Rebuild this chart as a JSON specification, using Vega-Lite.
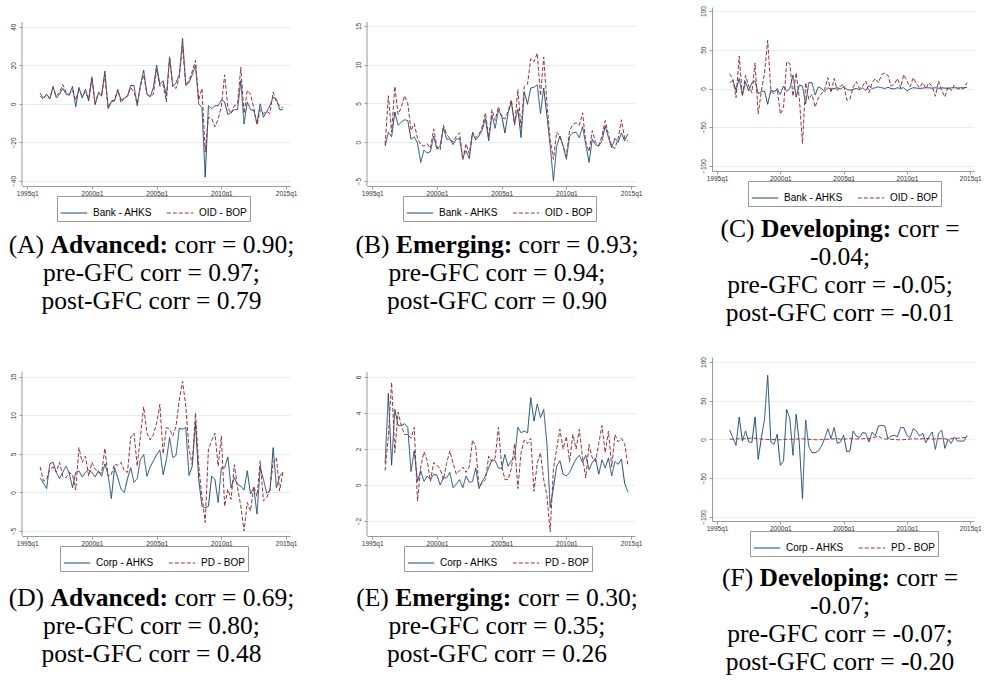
{
"$schema": "https://vega.github.io/schema/vega-lite/v6.json",
"padding": {"left": 8, "top": 5, "right": 0, "bottom": 0},
"background": "white",
"datasets": {
"ts": [
{"t":1996,"A1":5.5,"A2":4,"B1":-0.5,"B2":-0.3,"C1":7.5,"C2":19,"D1":1.9,"D2":3.3,"E1":1.2,"E2":0.8,"F1":12,"F2":0.5},
{"t":1996.25,"A1":3,"A2":2.5,"B1":1.3,"B2":6,"C1":10.5,"C2":12,"D1":1.2,"D2":1.5,"E1":5.1,"E2":2.7,"F1":2.4,"F2":0.3},
{"t":1996.5,"A1":5,"A2":5,"B1":0.7,"B2":1.3,"C1":-2.4,"C2":-12,"D1":0.5,"D2":1.7,"E1":1.1,"E2":5.7,"F1":-7.5,"F2":0.8},
{"t":1996.75,"A1":2.5,"A2":3,"B1":3.9,"B2":7.2,"C1":13,"C2":42,"D1":3.7,"D2":3,"E1":4.2,"E2":1.8,"F1":29,"F2":1},
{"t":1997,"A1":9,"A2":8.5,"B1":2.2,"B2":3.6,"C1":-8.4,"C2":-10,"D1":3.9,"D2":3.3,"E1":3.3,"E2":4.05,"F1":-2,"F2":0.5},
{"t":1997.25,"A1":3,"A2":4,"B1":2.6,"B2":4.5,"C1":8.8,"C2":17,"D1":2.6,"D2":2.6,"E1":3.3,"E2":3.3,"F1":11,"F2":1.2},
{"t":1997.5,"A1":5,"A2":6,"B1":2.9,"B2":6,"C1":-3.2,"C2":3,"D1":1.8,"D2":3.9,"E1":3.4,"E2":2.8,"F1":-3.2,"F2":1.5},
{"t":1997.75,"A1":8,"A2":10,"B1":2.8,"B2":5,"C1":7.5,"C2":-5.5,"D1":2.6,"D2":2.1,"E1":3.2,"E2":2.8,"F1":-4,"F2":2},
{"t":1998,"A1":5,"A2":6,"B1":0.4,"B2":1.5,"C1":9.7,"C2":33,"D1":3.4,"D2":1.9,"E1":0.75,"E2":2.6,"F1":29,"F2":1.5},
{"t":1998.25,"A1":4.5,"A2":5,"B1":0.7,"B2":2.4,"C1":-6.7,"C2":-33,"D1":2.5,"D2":2.6,"E1":1.9,"E2":3.2,"F1":-25.6,"F2":1},
{"t":1998.5,"A1":9,"A2":7,"B1":-0.1,"B2":0.5,"C1":-4,"C2":-3,"D1":0.6,"D2":2.3,"E1":0.2,"E2":-0.9,"F1":2.4,"F2":0.5},
{"t":1998.75,"A1":-1.5,"A2":2,"B1":-2.6,"B2":-0.3,"C1":-3.2,"C2":20,"D1":2.6,"D2":0.3,"E1":0.8,"E2":1,"F1":26,"F2":0.3},
{"t":1999,"A1":8.5,"A2":7.5,"B1":-1,"B2":-0.5,"C1":-20.4,"C2":62,"D1":2.8,"D2":5.8,"E1":0.2,"E2":1.85,"F1":82.8,"F2":0},
{"t":1999.25,"A1":3,"A2":4,"B1":-1.4,"B2":-0.2,"C1":-2.4,"C2":-2.4,"D1":2,"D2":3.9,"E1":0.5,"E2":1.35,"F1":-3.2,"F2":-0.2},
{"t":1999.5,"A1":7.5,"A2":6,"B1":-1.2,"B2":-0.8,"C1":-4,"C2":-6.7,"D1":2.6,"D2":4.7,"E1":0.3,"E2":0.2,"F1":-6.2,"F2":0},
{"t":1999.75,"A1":1.5,"A2":2.5,"B1":0.8,"B2":1.7,"C1":-1,"C2":0,"D1":2.9,"D2":2.1,"E1":0.6,"E2":1.25,"F1":6.7,"F2":-0.5},
{"t":2000,"A1":13.5,"A2":14,"B1":-0.9,"B2":-0.6,"C1":-7.5,"C2":-33,"D1":2.6,"D2":3.9,"E1":0.55,"E2":1.1,"F1":-33.3,"F2":-0.3},
{"t":2000.25,"A1":-0.5,"A2":0,"B1":-0.5,"B2":-1,"C1":3.2,"C2":-25,"D1":2,"D2":3,"E1":0,"E2":0.9,"F1":-27.7,"F2":0},
{"t":2000.5,"A1":5.5,"A2":6,"B1":1.9,"B2":2.2,"C1":-4,"C2":34.6,"D1":2.8,"D2":2.6,"E1":0.4,"E2":0.3,"F1":38.9,"F2":0.2},
{"t":2000.75,"A1":4,"A2":4.5,"B1":0.4,"B2":1,"C1":0,"C2":32,"D1":2.1,"D2":2.5,"E1":0.4,"E2":1.2,"F1":27,"F2":0.5},
{"t":2001,"A1":17,"A2":15,"B1":0.4,"B2":0.5,"C1":17.4,"C2":-10,"D1":3.7,"D2":5.7,"E1":0.7,"E2":1.9,"F1":-20.4,"F2":0.3},
{"t":2001.25,"A1":-2.5,"A2":-2,"B1":-0.3,"B2":0,"C1":-11,"C2":20.4,"D1":2.3,"D2":2.1,"E1":-0.15,"E2":1.2,"F1":32.5,"F2":0.6},
{"t":2001.5,"A1":1,"A2":1.5,"B1":0.4,"B2":0.8,"C1":4.5,"C2":-12.7,"D1":-0.8,"D2":2.3,"E1":0.05,"E2":0.6,"F1":-5,"F2":0.8},
{"t":2001.75,"A1":1.5,"A2":2,"B1":0.5,"B2":1.2,"C1":3.2,"C2":-71,"D1":3.2,"D2":3.7,"E1":0.3,"E2":0.8,"F1":-76.3,"F2":1},
{"t":2002,"A1":7,"A2":7.5,"B1":-2,"B2":-2.3,"C1":-19.6,"C2":7.5,"D1":1.9,"D2":3.5,"E1":-0.15,"E2":1,"F1":25,"F2":0.5},
{"t":2002.25,"A1":2,"A2":0.5,"B1":-1.1,"B2":-0.2,"C1":7.5,"C2":-14,"D1":0.4,"D2":3.9,"E1":0.5,"E2":0.7,"F1":-9.2,"F2":0.2},
{"t":2002.5,"A1":3,"A2":3,"B1":-2.1,"B2":-1.5,"C1":7.5,"C2":-7.5,"D1":0,"D2":2.8,"E1":0.15,"E2":1,"F1":-17,"F2":0},
{"t":2002.75,"A1":4,"A2":4,"B1":1.2,"B2":1.3,"C1":-8.4,"C2":-24,"D1":1.8,"D2":2.6,"E1":0.2,"E2":2.5,"F1":-17,"F2":-0.3},
{"t":2003,"A1":9.5,"A2":8.5,"B1":0.3,"B2":0.6,"C1":2,"C2":-12,"D1":3.2,"D2":7.2,"E1":0.95,"E2":2.1,"F1":-14.8,"F2":-0.5},
{"t":2003.25,"A1":9.5,"A2":6,"B1":0.8,"B2":1,"C1":0,"C2":-6.7,"D1":1.3,"D2":7.7,"E1":-0.2,"E2":-0.1,"F1":-8.4,"F2":-0.2},
{"t":2003.5,"A1":-1,"A2":0,"B1":1.6,"B2":2,"C1":-4,"C2":-1,"D1":1.8,"D2":3.4,"E1":0.2,"E2":0.1,"F1":1,"F2":0},
{"t":2003.75,"A1":10,"A2":9,"B1":3.1,"B2":3.8,"C1":1,"C2":14,"D1":4.3,"D2":7.3,"E1":0.5,"E2":0.3,"F1":14,"F2":0.3},
{"t":2004,"A1":17.5,"A2":15,"B1":0.2,"B2":0.6,"C1":-1,"C2":-5.4,"D1":4.9,"D2":11.1,"E1":0.95,"E2":1.6,"F1":1,"F2":0.5},
{"t":2004.25,"A1":5,"A2":5,"B1":3.5,"B2":4.2,"C1":0,"C2":13,"D1":2.1,"D2":7.7,"E1":1.4,"E2":1.3,"F1":15.3,"F2":0.8},
{"t":2004.5,"A1":3.5,"A2":4,"B1":1.8,"B2":2.8,"C1":1,"C2":-2.4,"D1":3.3,"D2":6.8,"E1":1.35,"E2":1.5,"F1":-5,"F2":1},
{"t":2004.75,"A1":8.5,"A2":5,"B1":4.1,"B2":4.6,"C1":-0.6,"C2":3.2,"D1":4.1,"D2":7.5,"E1":0.95,"E2":3.2,"F1":-3.2,"F2":0.5},
{"t":2005,"A1":20,"A2":18,"B1":3.5,"B2":3.2,"C1":2,"C2":5.4,"D1":4.9,"D2":9,"E1":0.9,"E2":1.1,"F1":5.4,"F2":0.3},
{"t":2005.25,"A1":10,"A2":9,"B1":1.2,"B2":3,"C1":-1,"C2":-15,"D1":5.5,"D2":11.4,"E1":1.7,"E2":0.3,"F1":-15.7,"F2":0.8},
{"t":2005.5,"A1":12,"A2":10,"B1":3.8,"B2":4,"C1":-2.4,"C2":-14,"D1":2.3,"D2":5,"E1":1.05,"E2":0.3,"F1":-14.8,"F2":1.2},
{"t":2005.75,"A1":4,"A2":1,"B1":5.2,"B2":5.5,"C1":-1,"C2":2,"D1":4.2,"D2":8.4,"E1":1.35,"E2":0.9,"F1":11,"F2":1},
{"t":2006,"A1":24,"A2":24.5,"B1":2.4,"B2":2.2,"C1":0,"C2":8.8,"D1":7.1,"D2":8.2,"E1":1.5,"E2":2.3,"F1":4.5,"F2":0.6},
{"t":2006.25,"A1":9,"A2":9,"B1":4.3,"B2":6.8,"C1":-1.5,"C2":0,"D1":4.5,"D2":7.3,"E1":3.2,"E2":-0.2,"F1":2.4,"F2":0.8},
{"t":2006.5,"A1":11,"A2":8,"B1":0.6,"B2":1.8,"C1":1,"C2":3.2,"D1":4.8,"D2":8.6,"E1":2.9,"E2":1.8,"F1":8.8,"F2":1},
{"t":2006.75,"A1":15,"A2":14,"B1":6.5,"B2":7.2,"C1":-2.4,"C2":9.7,"D1":8.3,"D2":12,"E1":3,"E2":2.5,"F1":8,"F2":1.5},
{"t":2007,"A1":34,"A2":30,"B1":4.9,"B2":7.5,"C1":3.6,"C2":-5.4,"D1":8.2,"D2":14.4,"E1":2.9,"E2":2.3,"F1":-3.2,"F2":1.2},
{"t":2007.25,"A1":9.5,"A2":10,"B1":7,"B2":10.8,"C1":0,"C2":7.5,"D1":8.4,"D2":11.2,"E1":4.85,"E2":2.6,"F1":9.7,"F2":2},
{"t":2007.5,"A1":11,"A2":12,"B1":7.1,"B2":10.4,"C1":1,"C2":13,"D1":2.2,"D2":5.6,"E1":3.55,"E2":-0.35,"F1":4.5,"F2":3},
{"t":2007.75,"A1":15,"A2":17,"B1":7.4,"B2":11.5,"C1":2,"C2":7.5,"D1":3.4,"D2":3.6,"E1":4.5,"E2":1.2,"F1":17.4,"F2":4.5},
{"t":2008,"A1":20,"A2":22.5,"B1":3.7,"B2":6,"C1":1,"C2":18,"D1":9.1,"D2":10.3,"E1":3.75,"E2":1.8,"F1":18.3,"F2":1.5},
{"t":2008.25,"A1":0,"A2":2,"B1":7,"B2":11,"C1":0,"C2":20,"D1":1.7,"D2":3.4,"E1":4.2,"E2":0.3,"F1":17.4,"F2":0.8},
{"t":2008.5,"A1":-2,"A2":8,"B1":3.4,"B2":5,"C1":1.5,"C2":17,"D1":-1.8,"D2":-0.5,"E1":2.25,"E2":-0.6,"F1":1,"F2":0.5},
{"t":2008.75,"A1":-38,"A2":-25,"B1":-0.5,"B2":0.3,"C1":0,"C2":3.2,"D1":-2,"D2":-3.9,"E1":-1.25,"E2":-2.6,"F1":4.5,"F2":0.3},
{"t":2009,"A1":-1,"A2":-7,"B1":-5,"B2":-2.2,"C1":-0.6,"C2":5.4,"D1":-1.8,"D2":5.6,"E1":-0.15,"E2":0.9,"F1":5.4,"F2":0},
{"t":2009.25,"A1":-2.5,"A2":-7.5,"B1":-0.5,"B2":1.3,"C1":1,"C2":13,"D1":2.1,"D2":6.7,"E1":1.05,"E2":2,"F1":3.6,"F2":-0.3},
{"t":2009.5,"A1":-1,"A2":-12,"B1":0.8,"B2":0.8,"C1":0,"C2":1,"D1":1.7,"D2":7.7,"E1":1.35,"E2":3.1,"F1":15.3,"F2":-0.5},
{"t":2009.75,"A1":-1,"A2":-8,"B1":-0.5,"B2":-0.5,"C1":1,"C2":18,"D1":-1.3,"D2":3.4,"E1":0.6,"E2":2,"F1":15.3,"F2":-0.2},
{"t":2010,"A1":2,"A2":-1,"B1":-2.2,"B2":-1.8,"C1":-3.2,"C2":9.7,"D1":3.2,"D2":7.3,"E1":0.5,"E2":2.7,"F1":5.4,"F2":0.3},
{"t":2010.25,"A1":1,"A2":15,"B1":0.8,"B2":1.5,"C1":-0.6,"C2":2,"D1":3.2,"D2":-1.8,"E1":0.7,"E2":1.3,"F1":2.4,"F2":0.5},
{"t":2010.5,"A1":-5.5,"A2":-2,"B1":1.2,"B2":2.3,"C1":1,"C2":14,"D1":4.6,"D2":0.4,"E1":1.1,"E2":2.8,"F1":14,"F2":1},
{"t":2010.75,"A1":-4.5,"A2":-5,"B1":1.3,"B2":2.5,"C1":0.6,"C2":6.2,"D1":0.6,"D2":-0.9,"E1":1.45,"E2":2,"F1":11,"F2":0.8},
{"t":2011,"A1":-3,"A2":-1,"B1":0.6,"B2":2.2,"C1":0,"C2":1,"D1":1.9,"D2":3.6,"E1":1.65,"E2":3.1,"F1":4.5,"F2":0.5},
{"t":2011.25,"A1":-3,"A2":0,"B1":2,"B2":3.8,"C1":0.5,"C2":7.5,"D1":1,"D2":0.6,"E1":1.25,"E2":1.5,"F1":8,"F2":1},
{"t":2011.5,"A1":12,"A2":19,"B1":-0.3,"B2":0,"C1":1,"C2":0,"D1":0.8,"D2":-1.8,"E1":1.65,"E2":0.4,"F1":-4,"F2":1.5},
{"t":2011.75,"A1":-10.5,"A2":-5,"B1":-2.6,"B2":-1.2,"C1":0.8,"C2":7.5,"D1":0.3,"D2":-5,"E1":0.85,"E2":2.25,"F1":3.6,"F2":1},
{"t":2012,"A1":1,"A2":7,"B1":0.4,"B2":1.5,"C1":0.5,"C2":2,"D1":2.8,"D2":-1.3,"E1":1.25,"E2":1.5,"F1":9.7,"F2":0.6},
{"t":2012.25,"A1":-3,"A2":5,"B1":-0.3,"B2":0,"C1":1,"C2":-10,"D1":-0.2,"D2":-2.4,"E1":1.5,"E2":1.3,"F1":-12.7,"F2":0.8},
{"t":2012.5,"A1":-3.5,"A2":-2,"B1":-0.5,"B2":-0.4,"C1":0.3,"C2":9.7,"D1":0.6,"D2":0.8,"E1":0.6,"E2":2.3,"F1":8,"F2":1},
{"t":2012.75,"A1":-10,"A2":-11,"B1":0.2,"B2":0.8,"C1":0.8,"C2":-2.4,"D1":-2.8,"D2":-0.5,"E1":1.4,"E2":3.3,"F1":12,"F2":1.2},
{"t":2013,"A1":0,"A2":-3,"B1":2.1,"B2":2.8,"C1":0.5,"C2":-11,"D1":3.2,"D2":4.1,"E1":0.95,"E2":1.8,"F1":-11.4,"F2":0.8},
{"t":2013.25,"A1":-7,"A2":-5,"B1":0.6,"B2":1,"C1":0.2,"C2":2,"D1":1.7,"D2":-1.1,"E1":1.5,"E2":3,"F1":0.2,"F2":0.5},
{"t":2013.5,"A1":-4,"A2":-4,"B1":-0.7,"B2":-0.5,"C1":0.8,"C2":-2.4,"D1":-0.1,"D2":-0.7,"E1":0.5,"E2":1,"F1":-5,"F2":1},
{"t":2013.75,"A1":-1,"A2":-5,"B1":0.5,"B2":-0.8,"C1":1,"C2":4.5,"D1":0.2,"D2":0.4,"E1":1.3,"E2":2.8,"F1":3.2,"F2":1.5},
{"t":2014,"A1":3.5,"A2":6,"B1":0,"B2":0.5,"C1":0.5,"C2":0,"D1":5.8,"D2":3.9,"E1":1.15,"E2":2.4,"F1":-2,"F2":1.8},
{"t":2014.25,"A1":2.5,"A2":1,"B1":1.2,"B2":2.9,"C1":1,"C2":-1,"D1":0.6,"D2":4.5,"E1":1.45,"E2":2.6,"F1":-2,"F2":2},
{"t":2014.5,"A1":-3,"A2":-1,"B1":0.2,"B2":0.5,"C1":0.8,"C2":0,"D1":2.1,"D2":0.2,"E1":0.1,"E2":2.3,"F1":-2,"F2":2.5},
{"t":2014.75,"A1":-3,"A2":-2,"B1":1.1,"B2":0.2,"C1":1.5,"C2":7.5,"D1":2.6,"D2":2.6,"E1":-0.4,"E2":1.1,"F1":5.4,"F2":3}
],
"cap": [
{"p":"A","line":1,"seg":"pre","text":"(A)"},
{"p":"A","line":1,"seg":"bold","text":"Advanced:"},
{"p":"A","line":1,"seg":"post","text":"corr = 0.90;"},
{"p":"A","line":2,"seg":"full","text":"pre-GFC corr = 0.97;"},
{"p":"A","line":3,"seg":"full","text":"post-GFC corr = 0.79"},
{"p":"B","line":1,"seg":"pre","text":"(B)"},
{"p":"B","line":1,"seg":"bold","text":"Emerging:"},
{"p":"B","line":1,"seg":"post","text":"corr = 0.93;"},
{"p":"B","line":2,"seg":"full","text":"pre-GFC corr = 0.94;"},
{"p":"B","line":3,"seg":"full","text":"post-GFC corr = 0.90"},
{"p":"C","line":1,"seg":"pre","text":"(C)"},
{"p":"C","line":1,"seg":"bold","text":"Developing:"},
{"p":"C","line":1,"seg":"post","text":"corr ="},
{"p":"C","line":2,"seg":"full","text":"-0.04;"},
{"p":"C","line":3,"seg":"full","text":"pre-GFC corr = -0.05;"},
{"p":"C","line":4,"seg":"full","text":"post-GFC corr = -0.01"},
{"p":"D","line":1,"seg":"pre","text":"(D)"},
{"p":"D","line":1,"seg":"bold","text":"Advanced:"},
{"p":"D","line":1,"seg":"post","text":"corr = 0.69;"},
{"p":"D","line":2,"seg":"full","text":"pre-GFC corr = 0.80;"},
{"p":"D","line":3,"seg":"full","text":"post-GFC corr = 0.48"},
{"p":"E","line":1,"seg":"pre","text":"(E)"},
{"p":"E","line":1,"seg":"bold","text":"Emerging:"},
{"p":"E","line":1,"seg":"post","text":"corr = 0.30;"},
{"p":"E","line":2,"seg":"full","text":"pre-GFC corr = 0.35;"},
{"p":"E","line":3,"seg":"full","text":"post-GFC corr = 0.26"},
{"p":"F","line":1,"seg":"pre","text":"(F)"},
{"p":"F","line":1,"seg":"bold","text":"Developing:"},
{"p":"F","line":1,"seg":"post","text":"corr ="},
{"p":"F","line":2,"seg":"full","text":"-0.07;"},
{"p":"F","line":3,"seg":"full","text":"pre-GFC corr = -0.07;"},
{"p":"F","line":4,"seg":"full","text":"post-GFC corr = -0.20"}
]
},
"columns": 3,
"bounds": "flush",
"align": "each",
"spacing": {"row": 10, "column": 77},
"resolve": {"scale": {"color": "independent", "strokeDash": "independent"}, "legend": {"color": "independent", "strokeDash": "independent"}},
"concat": [
{
 "width": 268, "height": 179,
 "layer": [
  {"data": {"values": [{}]}, "mark": {"type": "rule", "color": "#9a9a9a", "strokeWidth": 1}, "encoding": {"x": {"datum": 1994.6}, "y": {"datum": -42.6}, "y2": {"datum": 42.44}}},
  {"data": {"name": "ts"}, "transform": [{"fold": ["A1", "A2"], "as": ["s", "v"]}], "mark": {"type": "line", "strokeWidth": 1},
   "encoding": {
    "x": {"field": "t", "type": "quantitative", "scale": {"domain": [1994.6, 2015.3], "nice": false, "zero": false}, "axis": {"values": [1995, 2000, 2005, 2010, 2015], "labelExpr": "datum.value + 'q1'", "title": null}},
    "y": {"field": "v", "type": "quantitative", "scale": {"domain": [-42.6, 50.2], "nice": false, "zero": false}, "axis": {"values": [-40, -20, 0, 20, 40], "title": null, "domain": false}},
    "color": {"field": "s", "type": "nominal", "scale": {"domain": ["A1", "A2"], "range": ["#1a476f", "#90353b"]}, "legend": {"orient": "none", "legendX": 35, "legendY": 189, "direction": "horizontal", "title": null, "labelExpr": "datum.label == 'A1' ? 'Bank - AHKS' : 'OID - BOP'"}},
    "strokeDash": {"field": "s", "type": "nominal", "scale": {"domain": ["A1", "A2"], "range": [[1, 0], [4, 2]]}, "legend": {"orient": "none", "legendX": 35, "legendY": 189, "direction": "horizontal", "title": null, "labelExpr": "datum.label == 'A1' ? 'Bank - AHKS' : 'OID - BOP'"}}
   }}
 ]
},
{
 "width": 268, "height": 179,
 "layer": [
  {"data": {"values": [{}]}, "mark": {"type": "rule", "color": "#9a9a9a", "strokeWidth": 1}, "encoding": {"x": {"datum": 1994.6}, "y": {"datum": -5.645}, "y2": {"datum": 15.52}}},
  {"data": {"name": "ts"}, "transform": [{"fold": ["B1", "B2"], "as": ["s", "v"]}], "mark": {"type": "line", "strokeWidth": 1},
   "encoding": {
    "x": {"field": "t", "type": "quantitative", "scale": {"domain": [1994.6, 2015.3], "nice": false, "zero": false}, "axis": {"values": [1995, 2000, 2005, 2010, 2015], "labelExpr": "datum.value + 'q1'", "title": null}},
    "y": {"field": "v", "type": "quantitative", "scale": {"domain": [-5.645, 17.45], "nice": false, "zero": false}, "axis": {"values": [-5, 0, 5, 10, 15], "title": null, "domain": false}},
    "color": {"field": "s", "type": "nominal", "scale": {"domain": ["B1", "B2"], "range": ["#1a476f", "#90353b"]}, "legend": {"orient": "none", "legendX": 36, "legendY": 189, "direction": "horizontal", "title": null, "labelExpr": "datum.label == 'B1' ? 'Bank - AHKS' : 'OID - BOP'"}},
    "strokeDash": {"field": "s", "type": "nominal", "scale": {"domain": ["B1", "B2"], "range": [[1, 0], [4, 2]]}, "legend": {"orient": "none", "legendX": 36, "legendY": 189, "direction": "horizontal", "title": null, "labelExpr": "datum.label == 'B1' ? 'Bank - AHKS' : 'OID - BOP'"}}
   }}
 ]
},
{
 "width": 262, "height": 164,
 "data": {"name": "ts"}, "transform": [{"fold": ["C1", "C2"], "as": ["s", "v"]}], "mark": {"type": "line", "strokeWidth": 1},
 "encoding": {
  "x": {"field": "t", "type": "quantitative", "scale": {"domain": [1994.6, 2015.3], "nice": false, "zero": false}, "axis": {"values": [1995, 2000, 2005, 2010, 2015], "labelExpr": "datum.value + 'q1'", "title": null}},
  "y": {"field": "v", "type": "quantitative", "scale": {"domain": [-106.45, 105.16], "nice": false, "zero": false}, "axis": {"values": [-100, -50, 0, 50, 100], "title": null}},
  "color": {"field": "s", "type": "nominal", "scale": {"domain": ["C1", "C2"], "range": ["#1a476f", "#90353b"]}, "legend": {"orient": "none", "legendX": 36, "legendY": 174, "direction": "horizontal", "title": null, "labelExpr": "datum.label == 'C1' ? 'Bank - AHKS' : 'OID - BOP'"}},
  "strokeDash": {"field": "s", "type": "nominal", "scale": {"domain": ["C1", "C2"], "range": [[1, 0], [4, 2]]}, "legend": {"orient": "none", "legendX": 36, "legendY": 174, "direction": "horizontal", "title": null, "labelExpr": "datum.label == 'C1' ? 'Bank - AHKS' : 'OID - BOP'"}}
 }
},
{
 "width": 259, "height": 151,
 "data": {"name": "cap"}, "transform": [{"filter": "datum.p == 'A'"}],
 "encoding": {"y": {"field": "line", "type": "quantitative", "scale": {"domain": [-0.75, 4.643], "reverse": true, "nice": false, "zero": false}, "axis": null}, "text": {"field": "text"}},
 "layer": [
  {"transform": [{"filter": "datum.seg == 'full'"}], "mark": {"type": "text", "font": "Liberation Serif", "fontSize": 25.5, "baseline": "middle", "align": "center"}},
  {"transform": [{"filter": "datum.seg == 'bold'"}], "mark": {"type": "text", "font": "Liberation Serif", "fontSize": 25.5, "baseline": "middle", "fontWeight": "bold", "align": "left", "dx": -101}},
  {"transform": [{"filter": "datum.seg == 'pre'"}], "mark": {"type": "text", "font": "Liberation Serif", "fontSize": 25.5, "baseline": "middle", "align": "right", "dx": -107.4}},
  {"transform": [{"filter": "datum.seg == 'post'"}], "mark": {"type": "text", "font": "Liberation Serif", "fontSize": 25.5, "baseline": "middle", "align": "left", "dx": 23}}
 ]
},
{
 "width": 260, "height": 151,
 "data": {"name": "cap"}, "transform": [{"filter": "datum.p == 'B'"}],
 "encoding": {"y": {"field": "line", "type": "quantitative", "scale": {"domain": [-0.75, 4.643], "reverse": true, "nice": false, "zero": false}, "axis": null}, "text": {"field": "text"}},
 "layer": [
  {"transform": [{"filter": "datum.seg == 'full'"}], "mark": {"type": "text", "font": "Liberation Serif", "fontSize": 25.5, "baseline": "middle", "align": "center"}},
  {"transform": [{"filter": "datum.seg == 'bold'"}], "mark": {"type": "text", "font": "Liberation Serif", "fontSize": 25.5, "baseline": "middle", "fontWeight": "bold", "align": "left", "dx": -101}},
  {"transform": [{"filter": "datum.seg == 'pre'"}], "mark": {"type": "text", "font": "Liberation Serif", "fontSize": 25.5, "baseline": "middle", "align": "right", "dx": -107.4}},
  {"transform": [{"filter": "datum.seg == 'post'"}], "mark": {"type": "text", "font": "Liberation Serif", "fontSize": 25.5, "baseline": "middle", "align": "left", "dx": 21.6}}
 ]
},
{
 "width": 256, "height": 151,
 "data": {"name": "cap"}, "transform": [{"filter": "datum.p == 'C'"}],
 "encoding": {"y": {"field": "line", "type": "quantitative", "scale": {"domain": [-0.1786, 5.214], "reverse": true, "nice": false, "zero": false}, "axis": null}, "text": {"field": "text"}},
 "layer": [
  {"transform": [{"filter": "datum.seg == 'full'"}], "mark": {"type": "text", "font": "Liberation Serif", "fontSize": 25.5, "baseline": "middle", "align": "center"}},
  {"transform": [{"filter": "datum.seg == 'bold'"}], "mark": {"type": "text", "font": "Liberation Serif", "fontSize": 25.5, "baseline": "middle", "fontWeight": "bold", "align": "left", "dx": -79}},
  {"transform": [{"filter": "datum.seg == 'pre'"}], "mark": {"type": "text", "font": "Liberation Serif", "fontSize": 25.5, "baseline": "middle", "align": "right", "dx": -85.4}},
  {"transform": [{"filter": "datum.seg == 'post'"}], "mark": {"type": "text", "font": "Liberation Serif", "fontSize": 25.5, "baseline": "middle", "align": "left", "dx": 57.7}}
 ]
},
{
 "width": 268, "height": 179,
 "layer": [
  {"data": {"values": [{}]}, "mark": {"type": "rule", "color": "#9a9a9a", "strokeWidth": 1}, "encoding": {"x": {"datum": 1994.6}, "y": {"datum": -5.65}, "y2": {"datum": 15.61}}},
  {"data": {"name": "ts"}, "transform": [{"fold": ["D1", "D2"], "as": ["s", "v"]}], "mark": {"type": "line", "strokeWidth": 1},
   "encoding": {
    "x": {"field": "t", "type": "quantitative", "scale": {"domain": [1994.6, 2015.3], "nice": false, "zero": false}, "axis": {"values": [1995, 2000, 2005, 2010, 2015], "labelExpr": "datum.value + 'q1'", "title": null}},
    "y": {"field": "v", "type": "quantitative", "scale": {"domain": [-5.65, 17.55], "nice": false, "zero": false}, "axis": {"values": [-5, 0, 5, 10, 15], "title": null, "domain": false}},
    "color": {"field": "s", "type": "nominal", "scale": {"domain": ["D1", "D2"], "range": ["#1a476f", "#90353b"]}, "legend": {"orient": "none", "legendX": 38, "legendY": 189, "direction": "horizontal", "title": null, "labelExpr": "datum.label == 'D1' ? 'Corp - AHKS' : 'PD - BOP'"}},
    "strokeDash": {"field": "s", "type": "nominal", "scale": {"domain": ["D1", "D2"], "range": [[1, 0], [4, 2]]}, "legend": {"orient": "none", "legendX": 38, "legendY": 189, "direction": "horizontal", "title": null, "labelExpr": "datum.label == 'D1' ? 'Corp - AHKS' : 'PD - BOP'"}}
   }}
 ]
},
{
 "width": 268, "height": 179,
 "layer": [
  {"data": {"values": [{}]}, "mark": {"type": "rule", "color": "#9a9a9a", "strokeWidth": 1}, "encoding": {"x": {"datum": 1994.6}, "y": {"datum": -2.833}, "y2": {"datum": 6.28}}},
  {"data": {"name": "ts"}, "transform": [{"fold": ["E1", "E2"], "as": ["s", "v"]}], "mark": {"type": "line", "strokeWidth": 1},
   "encoding": {
    "x": {"field": "t", "type": "quantitative", "scale": {"domain": [1994.6, 2015.3], "nice": false, "zero": false}, "axis": {"values": [1995, 2000, 2005, 2010, 2015], "labelExpr": "datum.value + 'q1'", "title": null}},
    "y": {"field": "v", "type": "quantitative", "scale": {"domain": [-2.833, 7.11], "nice": false, "zero": false}, "axis": {"values": [-2, 0, 2, 4, 6], "title": null, "domain": false}},
    "color": {"field": "s", "type": "nominal", "scale": {"domain": ["E1", "E2"], "range": ["#1a476f", "#90353b"]}, "legend": {"orient": "none", "legendX": 37, "legendY": 189, "direction": "horizontal", "title": null, "labelExpr": "datum.label == 'E1' ? 'Corp - AHKS' : 'PD - BOP'"}},
    "strokeDash": {"field": "s", "type": "nominal", "scale": {"domain": ["E1", "E2"], "range": [[1, 0], [4, 2]]}, "legend": {"orient": "none", "legendX": 37, "legendY": 189, "direction": "horizontal", "title": null, "labelExpr": "datum.label == 'E1' ? 'Corp - AHKS' : 'PD - BOP'"}}
   }}
 ]
},
{
 "width": 262, "height": 164,
 "data": {"name": "ts"}, "transform": [{"fold": ["F1", "F2"], "as": ["s", "v"]}], "mark": {"type": "line", "strokeWidth": 1},
 "encoding": {
  "x": {"field": "t", "type": "quantitative", "scale": {"domain": [1994.6, 2015.3], "nice": false, "zero": false}, "axis": {"values": [1995, 2000, 2005, 2010, 2015], "labelExpr": "datum.value + 'q1'", "title": null}},
  "y": {"field": "v", "type": "quantitative", "scale": {"domain": [-105.16, 106.45], "nice": false, "zero": false}, "axis": {"values": [-100, -50, 0, 50, 100], "title": null}},
  "color": {"field": "s", "type": "nominal", "scale": {"domain": ["F1", "F2"], "range": ["#1a476f", "#90353b"]}, "legend": {"orient": "none", "legendX": 38, "legendY": 174, "direction": "horizontal", "title": null, "labelExpr": "datum.label == 'F1' ? 'Corp - AHKS' : 'PD - BOP'"}},
  "strokeDash": {"field": "s", "type": "nominal", "scale": {"domain": ["F1", "F2"], "range": [[1, 0], [4, 2]]}, "legend": {"orient": "none", "legendX": 38, "legendY": 174, "direction": "horizontal", "title": null, "labelExpr": "datum.label == 'F1' ? 'Corp - AHKS' : 'PD - BOP'"}}
 }
},
{
 "width": 259, "height": 130,
 "data": {"name": "cap"}, "transform": [{"filter": "datum.p == 'D'"}],
 "encoding": {"y": {"field": "line", "type": "quantitative", "scale": {"domain": [-0.857, 3.786], "reverse": true, "nice": false, "zero": false}, "axis": null}, "text": {"field": "text"}},
 "layer": [
  {"transform": [{"filter": "datum.seg == 'full'"}], "mark": {"type": "text", "font": "Liberation Serif", "fontSize": 25.5, "baseline": "middle", "align": "center"}},
  {"transform": [{"filter": "datum.seg == 'bold'"}], "mark": {"type": "text", "font": "Liberation Serif", "fontSize": 25.5, "baseline": "middle", "fontWeight": "bold", "align": "left", "dx": -101}},
  {"transform": [{"filter": "datum.seg == 'pre'"}], "mark": {"type": "text", "font": "Liberation Serif", "fontSize": 25.5, "baseline": "middle", "align": "right", "dx": -107.4}},
  {"transform": [{"filter": "datum.seg == 'post'"}], "mark": {"type": "text", "font": "Liberation Serif", "fontSize": 25.5, "baseline": "middle", "align": "left", "dx": 23}}
 ]
},
{
 "width": 260, "height": 130,
 "data": {"name": "cap"}, "transform": [{"filter": "datum.p == 'E'"}],
 "encoding": {"y": {"field": "line", "type": "quantitative", "scale": {"domain": [-0.857, 3.786], "reverse": true, "nice": false, "zero": false}, "axis": null}, "text": {"field": "text"}},
 "layer": [
  {"transform": [{"filter": "datum.seg == 'full'"}], "mark": {"type": "text", "font": "Liberation Serif", "fontSize": 25.5, "baseline": "middle", "align": "center"}},
  {"transform": [{"filter": "datum.seg == 'bold'"}], "mark": {"type": "text", "font": "Liberation Serif", "fontSize": 25.5, "baseline": "middle", "fontWeight": "bold", "align": "left", "dx": -101.8}},
  {"transform": [{"filter": "datum.seg == 'pre'"}], "mark": {"type": "text", "font": "Liberation Serif", "fontSize": 25.5, "baseline": "middle", "align": "right", "dx": -108.2}},
  {"transform": [{"filter": "datum.seg == 'post'"}], "mark": {"type": "text", "font": "Liberation Serif", "fontSize": 25.5, "baseline": "middle", "align": "left", "dx": 20.9}}
 ]
},
{
 "width": 256, "height": 130,
 "data": {"name": "cap"}, "transform": [{"filter": "datum.p == 'F'"}],
 "encoding": {"y": {"field": "line", "type": "quantitative", "scale": {"domain": [-0.143, 4.5], "reverse": true, "nice": false, "zero": false}, "axis": null}, "text": {"field": "text"}},
 "layer": [
  {"transform": [{"filter": "datum.seg == 'full'"}], "mark": {"type": "text", "font": "Liberation Serif", "fontSize": 25.5, "baseline": "middle", "align": "center"}},
  {"transform": [{"filter": "datum.seg == 'bold'"}], "mark": {"type": "text", "font": "Liberation Serif", "fontSize": 25.5, "baseline": "middle", "fontWeight": "bold", "align": "left", "dx": -80.4}},
  {"transform": [{"filter": "datum.seg == 'pre'"}], "mark": {"type": "text", "font": "Liberation Serif", "fontSize": 25.5, "baseline": "middle", "align": "right", "dx": -86.8}},
  {"transform": [{"filter": "datum.seg == 'post'"}], "mark": {"type": "text", "font": "Liberation Serif", "fontSize": 25.5, "baseline": "middle", "align": "left", "dx": 56.3}}
 ]
}
],
"config": {
 "view": {"stroke": null},
 "axis": {"domainColor": "#9a9a9a", "domainWidth": 1, "tickColor": "#9a9a9a", "tickSize": 3, "labelColor": "#333", "labelFont": "Liberation Sans", "labelFontSize": 6.5, "gridColor": "#e6ecef", "gridWidth": 1},
 "axisX": {"grid": false, "labelPadding": 1, "labelFlush": false},
 "axisY": {"grid": true, "labelAngle": -90, "labelPadding": 3},
 "legend": {"symbolType": "stroke", "symbolSize": 700, "symbolStrokeWidth": 1.2, "labelFont": "Liberation Sans", "labelFontSize": 10, "labelColor": "#000", "strokeColor": "#999", "fillColor": "#fff", "padding": 3, "columnPadding": 12, "labelOffset": 5}
}
}
